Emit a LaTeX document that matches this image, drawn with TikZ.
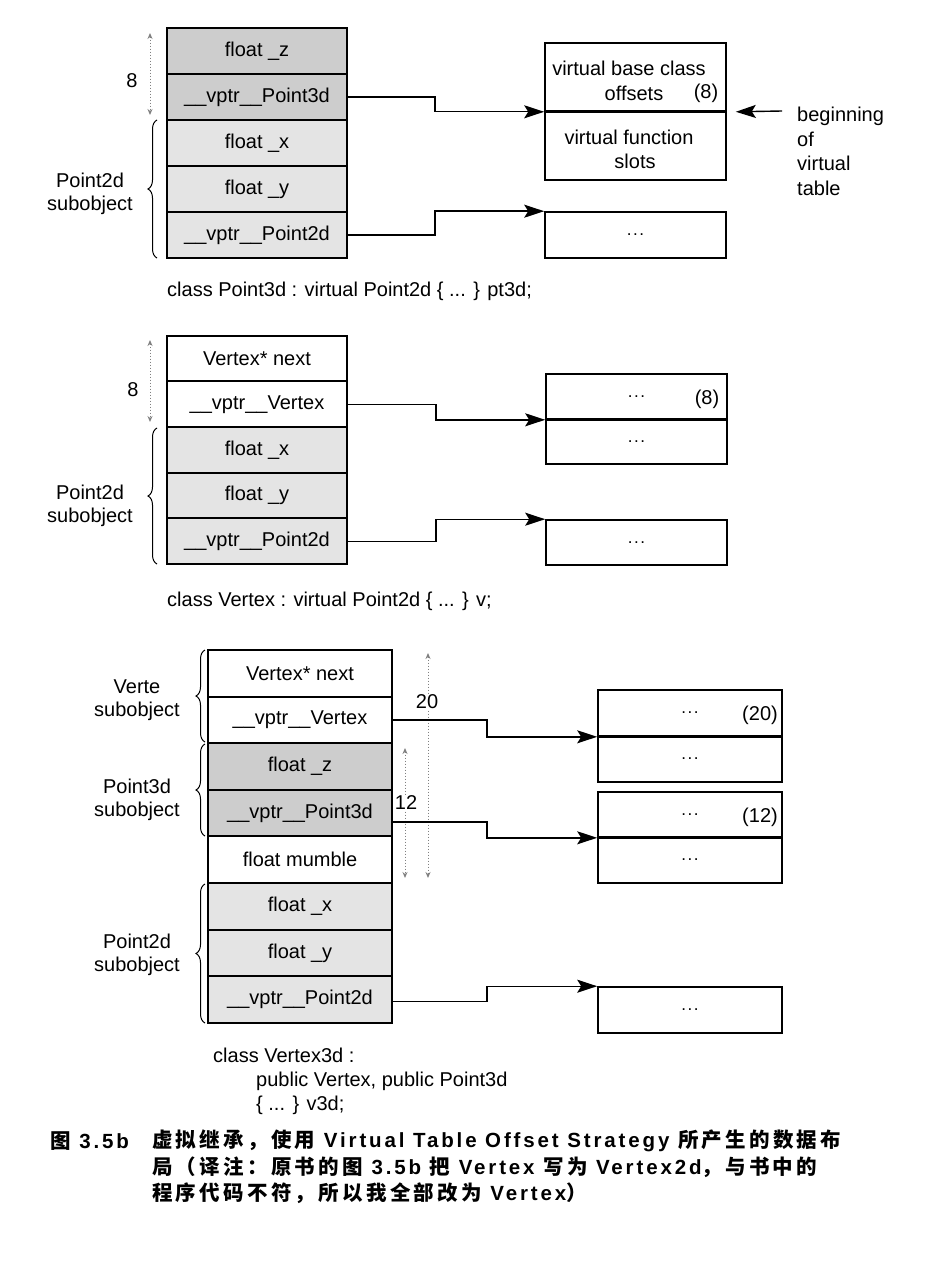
\documentclass[tikz,border=0pt]{standalone}
\usepackage{fontspec}
\setmainfont{Liberation Sans}
\newfontfamily\cjk{Noto Sans CJK SC}[LetterSpace=16]
\newfontfamily\capl{Liberation Sans}[LetterSpace=14]
\usetikzlibrary{arrows.meta,decorations.pathreplacing}
\definecolor{darkfill}{HTML}{CDCDCD}
\definecolor{lightfill}{HTML}{E4E4E4}
\newcommand{\lbl}{\fontsize{20}{23}\selectfont}
\newcommand{\edots}{{\fontsize{17}{17}\selectfont .\kern1.6pt.\kern1.6pt.}}
\begin{document}
\begin{tikzpicture}[x=1pt,y=-1pt,
  cell/.style={draw, line width=2.1pt, minimum width=180pt, minimum height=46pt, inner sep=0pt, font=\lbl},
  bcell/.style={cell, minimum width=184pt, minimum height=46.6pt},
  vtcell/.style={draw, line width=1.6pt, minimum width=181pt, inner sep=0pt, font=\lbl},
  bvtcell/.style={vtcell, minimum width=184pt},
  txt/.style={inner sep=0pt, font=\lbl},
  arr/.style={line width=1.4pt, -{Stealth[length=20pt,width=13pt,inset=4pt]}},
  dim/.style={dotted, gray, line width=1pt, {Stealth[length=6pt,width=5pt]}-{Stealth[length=6pt,width=5pt]}},
  brc/.style={decorate, decoration={brace, mirror, amplitude=9pt}, line width=1pt},
  captxt/.style={inner sep=0pt, anchor=west, font=\fontsize{20.5}{23}\selectfont\capl\bfseries}
]
\useasboundingbox (0,0) rectangle (950,1281);

% ===================== Section 1 =====================
\node[cell, fill=darkfill]  (a1) at (257,51)  {float \_z};
\node[cell, fill=darkfill]  (a2) at (257,97)  {\_\_vptr\_\_Point3d};
\node[cell, fill=lightfill] (a3) at (257,143) {float \_x};
\node[cell, fill=lightfill] (a4) at (257,189) {float \_y};
\node[cell, fill=lightfill] (a5) at (257,235) {\_\_vptr\_\_Point2d};

\node[vtcell, minimum height=68pt] (t1a) at (635.5,77) {};
\node[vtcell, minimum height=69pt] (t1b) at (635.5,145.5) {};
\draw[line width=2.5pt] (t1a.south west) -- (t1a.south east);
\node[txt] (t1l1) at (629,68) {virtual base class};
\node[txt] (t1l2) at (634,93) {offsets};
\node[txt] (t1l3) at (706,93) {(8)};
\node[txt] (t1l4) at (629,137) {virtual function};
\node[txt] (t1l5) at (635,161) {slots};
\node[vtcell, minimum height=46pt] (t2) at (635.5,235) {\edots};

\draw[arr] (a2.east) -- ++(87,0) |- (t1a.south west);
\draw[arr] (a5.east) -- ++(87,0) |- (t2.north west);

\coordinate (bt) at (782,111);
\draw[arr] (bt) -- ([xshift=9pt]t1a.south east);
\node[txt, anchor=north west, align=left, font=\fontsize{20}{24.5}\selectfont] (btxt) at (797,107) {beginning\\of\\virtual\\table};

\coordinate (d1s) at (150,33);
\coordinate (d1e) at (150,115);
\draw[dim] (d1s) -- (d1e);
\node[txt] (n8a) at (132,81) {8};

\draw[brc] (157,120) -- (157,258);
\node[txt, align=center] (s1) at (90,194) {Point2d\\subobject};

\node[txt, anchor=west] (c1) at (167,291) {class Point3d : virtual Point2d \{ ... \} pt3d;};

% ===================== Section 2 =====================
\node[cell, fill=white]     (b1) at (257,358.8) {Vertex* next};
\node[cell, fill=white]     (b2) at (257,404.4) {\_\_vptr\_\_Vertex};
\node[cell, fill=lightfill] (b3) at (257,450)   {float \_x};
\node[cell, fill=lightfill] (b4) at (257,495.6) {float \_y};
\node[cell, fill=lightfill] (b5) at (257,541.2) {\_\_vptr\_\_Point2d};

\node[vtcell, minimum height=45pt] (t3a) at (636.5,396.5) {\edots};
\node[vtcell, minimum height=45pt] (t3b) at (636.5,441.5) {\edots};
\draw[line width=2.5pt] (t3a.south west) -- (t3a.south east);
\node[txt] (t3n) at (707,399) {(8)};
\node[vtcell, minimum height=45pt] (t4) at (636.5,542.5) {\edots};

\draw[arr] (b2.east) -- ++(88,0) |- (t3a.south west);
\draw[arr] (b5.east) -- ++(88,0) |- (t4.north west);

\coordinate (d2s) at (150,340);
\coordinate (d2e) at (150,422);
\draw[dim] (d2s) -- (d2e);
\node[txt] (n8b) at (133,390) {8};

\draw[brc] (157,428) -- (157,564);
\node[txt, align=center] (s2) at (90,506) {Point2d\\subobject};

\node[txt, anchor=west] (c2) at (167,601) {class Vertex : virtual Point2d \{ ... \} v;};

% ===================== Section 3 =====================
\node[bcell, fill=white]     (e1) at (300,673.3) {Vertex* next};
\node[bcell, fill=white]     (e2) at (300,719.9) {\_\_vptr\_\_Vertex};
\node[bcell, fill=darkfill]  (e3) at (300,766.5) {float \_z};
\node[bcell, fill=darkfill]  (e4) at (300,813.1) {\_\_vptr\_\_Point3d};
\node[bcell, fill=white]     (e5) at (300,859.7) {float mumble};
\node[bcell, fill=lightfill] (e6) at (300,906.3) {float \_x};
\node[bcell, fill=lightfill] (e7) at (300,952.9) {float \_y};
\node[bcell, fill=lightfill] (e8) at (300,999.5) {\_\_vptr\_\_Point2d};

\node[bvtcell, minimum height=46pt] (t5a) at (690,713) {\edots};
\node[bvtcell, minimum height=46pt] (t5b) at (690,759) {\edots};
\draw[line width=2.5pt] (t5a.south west) -- (t5a.south east);
\node[txt] (t5n) at (760,715) {(20)};
\node[bvtcell, minimum height=45pt] (t6a) at (690,814.5) {\edots};
\node[bvtcell, minimum height=46pt] (t6b) at (690,860) {\edots};
\draw[line width=2.5pt] (t6a.south west) -- (t6a.south east);
\node[txt] (t6n) at (760,817) {(12)};
\node[bvtcell, minimum height=46pt] (t7) at (690,1010) {\edots};

\coordinate (d3s) at (428,653);
\coordinate (d3e) at (428,878);
\draw[dim] (d3s) -- (d3e);
\coordinate (d4s) at (405,748);
\coordinate (d4e) at (405,878);
\draw[dim] (d4s) -- (d4e);
\node[txt, fill=white, inner sep=1pt] (n20) at (427,702) {20};
\node[txt, fill=white, inner sep=1pt] (n12) at (406,803) {12};

\draw[arr] (e2.east) -- ++(94,0) |- (t5a.south west);
\draw[arr] ([yshift=-9pt]e4.east) -- ++(94,0) |- (t6a.south west);
\draw[arr] ([yshift=-2pt]e8.east) -- ++(94,0) |- (t7.north west);

\draw[brc] (205,650) -- (205,742);
\draw[brc] (205,744) -- (205,836);
\draw[brc] (205,884) -- (205,1023);
\node[txt, align=center] (s3) at (137,700) {Verte\\subobject};
\node[txt, align=center] (s4) at (137,800) {Point3d\\subobject};
\node[txt, align=center] (s5) at (137,955) {Point2d\\subobject};

\node[txt, anchor=west] (c3a) at (213,1055) {class Vertex3d :};
\node[txt, anchor=west] (c3b) at (256,1081) {public Vertex, public Point3d};
\node[txt, anchor=west] (c3c) at (256,1105) {\{ ... \} v3d;};

% ===================== Caption =====================
\node[captxt] (fig) at (50,1141) {{\cjk 图} 3.5b};
\node[captxt] (cap1) at (152,1141) {{\cjk 虚拟继承，使用} Virtual Table Offset Strategy {\cjk 所产生的数据布}};
\node[captxt] (cap2) at (152,1167) {{\cjk 局（译注：原书的图} 3.5b {\cjk 把} Vertex {\cjk 写为} Vertex2d{\cjk ，与书中的}};
\node[captxt] (cap3) at (152,1193) {{\cjk 程序代码不符，所以我全部改为} Vertex{\cjk ）}};
\end{tikzpicture}
\end{document}
